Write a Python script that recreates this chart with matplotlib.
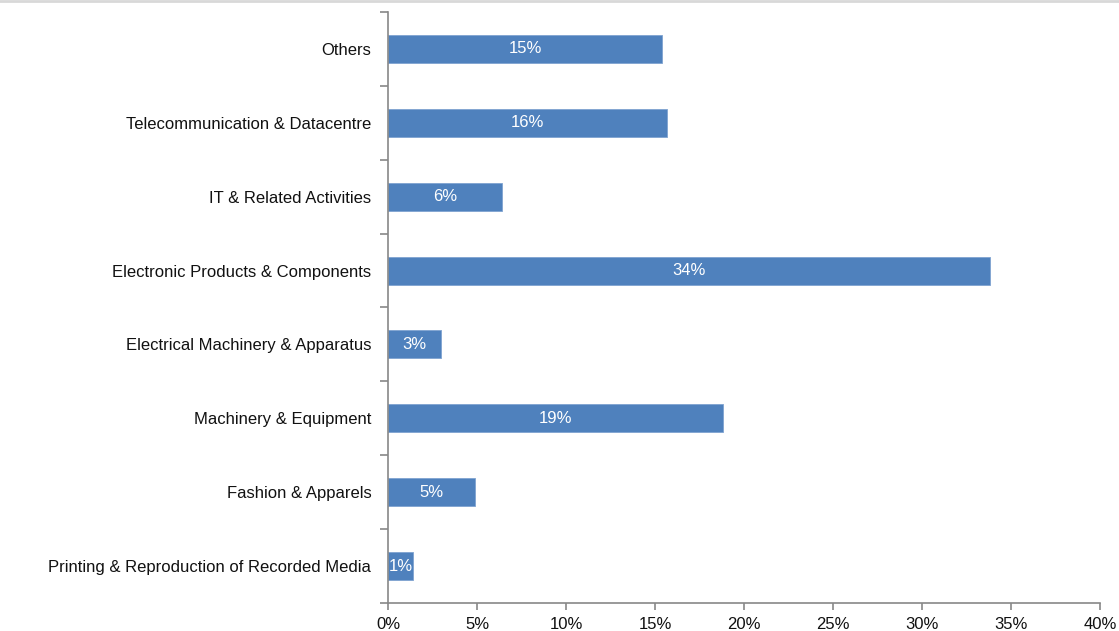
import numpy as np
import matplotlib.pyplot as plt
from matplotlib.ticker import FuncFormatter, FixedLocator

categories = [
    "Printing & Reproduction of Recorded Media",
    "Fashion & Apparels",
    "Machinery & Equipment",
    "Electrical Machinery & Apparatus",
    "Electronic Products & Components",
    "IT & Related Activities",
    "Telecommunication & Datacentre",
    "Others",
]
shares = [1.4, 4.9, 18.8, 3.0, 33.8, 6.4, 15.7, 15.4]
xticks = [0, 5, 10, 15, 20, 25, 30, 35, 40]

plt.rcParams['font.family'] = ['Liberation Sans', 'DejaVu Sans']

fig = plt.figure(figsize=(11.19, 6.31), dpi=100)
ax = fig.add_axes([0.3467, 0.0444, 0.6363, 0.9366])

y = np.arange(len(categories))
ax.barh(y, shares, height=0.38, color='#4F81BD', edgecolor='#7FA3D0', linewidth=0.6)

for yi, v in zip(y, shares):
    ax.text(v / 2, yi, f"{v:.0f}%", ha='center', va='center', color='white',
            fontsize=12, clip_on=True)

ax.set_xlim(0, 40)
ax.set_ylim(-0.5, len(categories) - 0.5)
ax.set_xticks(xticks)
ax.xaxis.set_major_formatter(FuncFormatter(lambda v, p: f"{v:.0f}%"))

# category labels sit between the boundary ticks
ax.set_yticks(y)
ax.set_yticklabels(categories)
ax.yaxis.set_minor_locator(FixedLocator(np.arange(-0.5, len(categories), 1.0)))
ax.tick_params(axis='y', which='major', length=0, pad=12, labelsize=12, labelcolor='#111111')
ax.tick_params(axis='y', which='minor', length=6, width=1.2, color='#888888', direction='out')
ax.tick_params(axis='x', length=5, width=1.2, color='#888888', pad=5,
               labelsize=12, labelcolor='#111111')

for side in ('top', 'right'):
    ax.spines[side].set_visible(False)
for side in ('left', 'bottom'):
    ax.spines[side].set_color('#888888')
    ax.spines[side].set_linewidth(1.2)

fig.add_artist(plt.Line2D([0, 1], [0.999, 0.999], color='#d8d8d8', linewidth=2,
                          transform=fig.transFigure))

fig.savefig('out.png', dpi=100)
